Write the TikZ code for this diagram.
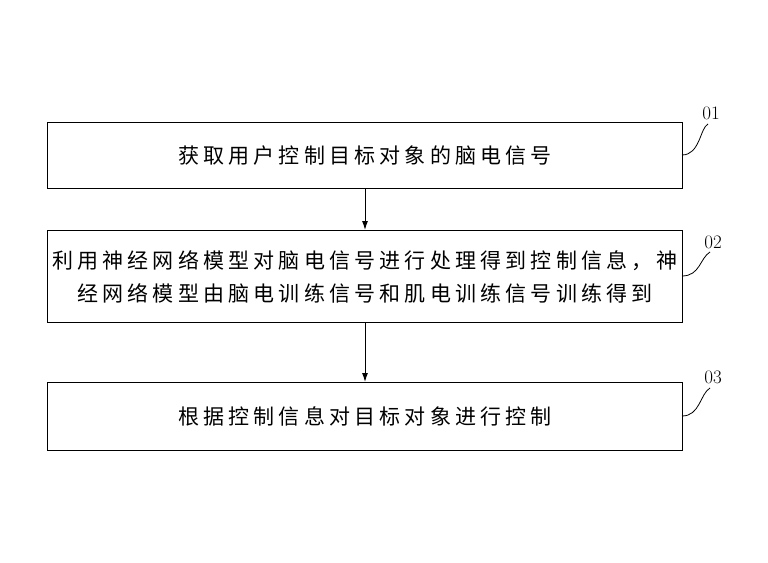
\documentclass[tikz,border=0pt]{standalone}
\usepackage{fontspec}
\newfontfamily\cjk[LetterSpace=20]{Noto Sans CJK SC}
\begin{document}
\begin{tikzpicture}[x=1pt,y=-1pt,
  box/.style={draw,line width=1pt,minimum width=635pt,anchor=north west,inner sep=0pt,font=\cjk\fontsize{21}{33}\selectfont,align=center},
  arr/.style={-{Latex[length=9pt,width=6pt]},line width=1pt},
  lead/.style={line width=0.8pt},
  lab/.style={font=\fontsize{19}{19}\selectfont}]
\usetikzlibrary{arrows.meta}
\useasboundingbox (0,0) rectangle (768,562);
\node[box,minimum height=66pt] (b1) at (47,122) {获取用户控制目标对象的脑电信号};
\node[box,minimum height=92pt] (b2) at (47,230) {利用神经网络模型对脑电信号进行处理得到控制信息，神\\经网络模型由脑电训练信号和肌电训练信号训练得到};
\node[box,minimum height=68pt] (b3) at (47,382) {根据控制信息对目标对象进行控制};
\draw[arr] (b1.south) -- (b2.north);
\draw[arr] (b2.south) -- (b3.north);
\node[lab] (l1) at (711,113) {01};
\node[lab] (l2) at (713,242) {02};
\node[lab] (l3) at (713,377) {03};
\coordinate (e1) at (682,155);
\coordinate (e2) at (682,276);
\coordinate (e3) at (682,416);
\draw[lead] (e1) .. controls (700,155) and (700,128) .. (708,124);
\draw[lead] (e2) .. controls (700,276) and (700,258) .. (710,252);
\draw[lead] (e3) .. controls (700,416) and (700,394) .. (710,388);
\end{tikzpicture}
\end{document}
